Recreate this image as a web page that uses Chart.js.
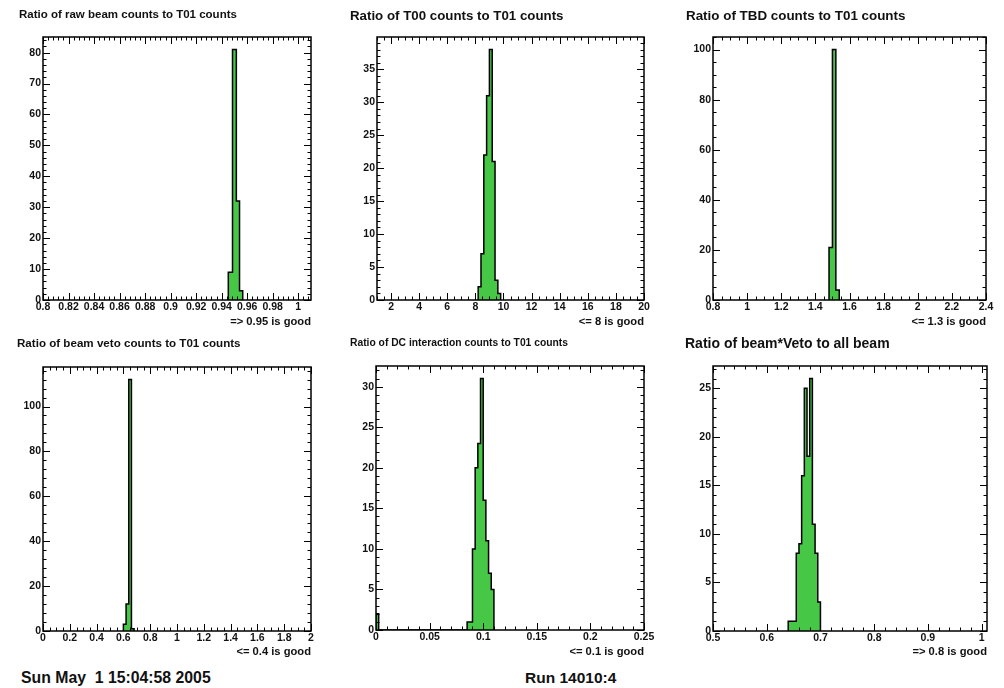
<!DOCTYPE html>
<html>
<head>
<meta charset="utf-8">
<script src="https://cdn.jsdelivr.net/npm/chart.js@4.4.1/dist/chart.umd.min.js"></script>
<style>
  body { margin: 0; background: #fff; width: 1004px; height: 688px; position: relative; overflow: hidden; }
  canvas { position: absolute; }
  .ttl, .foot { position: absolute; font-family: 'Liberation Sans', Arial, sans-serif; font-weight: bold; color: #111; white-space: pre; line-height: 1; }
</style>
</head>
<body>
<canvas id="c1" width="335" height="330" style="left:0;top:0"></canvas>
<canvas id="c2" width="335" height="330" style="left:335px;top:0"></canvas>
<canvas id="c3" width="334" height="330" style="left:670px;top:0"></canvas>
<canvas id="c4" width="335" height="330" style="left:0;top:330px"></canvas>
<canvas id="c5" width="335" height="330" style="left:335px;top:330px"></canvas>
<canvas id="c6" width="334" height="330" style="left:670px;top:330px"></canvas>

<div class="ttl" style="left:19px;top:9px;font-size:11.5px">Ratio of raw beam counts to T01 counts</div>
<div class="ttl" style="left:350px;top:9px;font-size:13.3px">Ratio of T00 counts to T01 counts</div>
<div class="ttl" style="left:686px;top:9px;font-size:13.4px">Ratio of TBD counts to T01 counts</div>
<div class="ttl" style="left:17px;top:337px;font-size:11.6px">Ratio of beam veto counts to T01 counts</div>
<div class="ttl" style="left:350px;top:338px;font-size:10.3px">Ratio of DC interaction counts to T01 counts</div>
<div class="ttl" style="left:685px;top:336px;font-size:14px">Ratio of beam*Veto to all beam</div>

<div class="foot" style="left:21px;top:670px;font-size:15.8px">Sun May  1 15:04:58 2005</div>
<div class="foot" style="left:525px;top:670px;font-size:15.5px">Run 14010:4</div>

<script>
// histogram bins (low edges + last high edge) and counts
const rawEdges = [0.9452, 0.9485, 0.9515, 0.954, 0.9565];
const rawCounts = [9, 81, 32, 3];
const rawXTicks = [0.8, 0.82, 0.84, 0.86, 0.88, 0.9, 0.92, 0.94, 0.96, 0.98, 1];
const rawYTicks = [0, 10, 20, 30, 40, 50, 60, 70, 80];

const t00Edges = [8.2, 8.4, 8.6, 8.8, 9.0, 9.2, 9.4, 9.6, 9.8];
const t00Counts = [2, 7, 22, 31, 38, 21, 3, 1];
const t00XTicks = [2, 4, 6, 8, 10, 12, 14, 16, 18, 20];
const t00YTicks = [0, 5, 10, 15, 20, 25, 30, 35];

const tbdEdges = [1.48, 1.50, 1.52, 1.54];
const tbdCounts = [21, 100, 4];
const tbdXTicks = [0.8, 1, 1.2, 1.4, 1.6, 1.8, 2, 2.2, 2.4];
const tbdYTicks = [0, 20, 40, 60, 80, 100];

const vetoEdges = [0.60, 0.62, 0.64, 0.66, 0.68];
const vetoCounts = [3, 12, 112, 1];
const vetoXTicks = [0, 0.2, 0.4, 0.6, 0.8, 1, 1.2, 1.4, 1.6, 1.8, 2];
const vetoYTicks = [0, 20, 40, 60, 80, 100];

const dcEdges = [0, 0.0025, 0.085, 0.0875, 0.09, 0.0925, 0.095, 0.0975, 0.1, 0.1025, 0.105, 0.1075, 0.11];
const dcCounts = [2, 0, 1, 1, 10, 20, 23, 31, 16, 11, 7, 5];
const dcXTicks = [0, 0.05, 0.1, 0.15, 0.2, 0.25];
const dcYTicks = [0, 5, 10, 15, 20, 25, 30];

const allEdges = [0.64, 0.645, 0.65, 0.655, 0.66, 0.665, 0.67, 0.675, 0.68, 0.685, 0.69, 0.695, 0.70];
const allCounts = [1, 1, 1, 8, 9, 16, 25, 18, 26, 11, 8, 3];
const allXTicks = [0.5, 0.6, 0.7, 0.8, 0.9, 1];
const allYTicks = [0, 5, 10, 15, 20, 25];

const panels = [
  { id: 'c1', edges: rawEdges, counts: rawCounts, xMin: 0.8, xMax: 1.01, xTicks: rawXTicks, xMinor: 0.004,
    yTicks: rawYTicks, yMinor: 2, note: '=> 0.95 is good', pad: { left: 43, top: 37, right: 24, bottom: 30 } },
  { id: 'c2', edges: t00Edges, counts: t00Counts, xMin: 1, xMax: 20, xTicks: t00XTicks, xMinor: 0.5,
    yTicks: t00YTicks, yMinor: 1, note: '<= 8 is good', pad: { left: 42, top: 37, right: 26, bottom: 30 } },
  { id: 'c3', edges: tbdEdges, counts: tbdCounts, xMin: 0.8, xMax: 2.4, xTicks: tbdXTicks, xMinor: 0.05,
    yTicks: tbdYTicks, yMinor: 5, note: '<= 1.3 is good', pad: { left: 43, top: 37, right: 18, bottom: 30 } },
  { id: 'c4', edges: vetoEdges, counts: vetoCounts, xMin: 0, xMax: 2, xTicks: vetoXTicks, xMinor: 0.05,
    yTicks: vetoYTicks, yMinor: 4, note: '<= 0.4 is good', pad: { left: 43, top: 37, right: 24, bottom: 29 } },
  { id: 'c5', edges: dcEdges, counts: dcCounts, xMin: 0, xMax: 0.25, xTicks: dcXTicks, xMinor: 0.01,
    yTicks: dcYTicks, yMinor: 1, note: '<= 0.1 is good', pad: { left: 41, top: 36, right: 26, bottom: 30 } },
  { id: 'c6', edges: allEdges, counts: allCounts, xMin: 0.5, xMax: 1.01, xTicks: allXTicks, xMinor: 0.02,
    yTicks: allYTicks, yMinor: 1, note: '=> 0.8 is good', pad: { left: 43, top: 36, right: 17, bottom: 29 } }
];

Chart.defaults.font.family = "'Liberation Sans', Arial, sans-serif";
Chart.defaults.font.weight = 'bold';
Chart.defaults.font.size = 10.5;
Chart.defaults.color = '#111';

// outline of a ROOT-style histogram as a stepped line
function histPoints(edges, counts) {
  const pts = [{ x: edges[0], y: 0 }];
  counts.forEach((c, i) => pts.push({ x: edges[i], y: c }));
  pts.push({ x: edges[edges.length - 1], y: 0 });
  return pts;
}

const fmt = v => String(parseFloat(Number(v).toFixed(4)));

// frame box + inward ticks on all four sides
const rootFrame = {
  id: 'rootFrame',
  afterDraw(chart, args, opts) {
    const { ctx, chartArea: a, scales: { x, y } } = chart;
    const isMajor = (v, list) => list.some(t => Math.abs(t - v) < 1e-7);
    ctx.save();
    ctx.strokeStyle = '#000';
    ctx.lineWidth = 1;
    ctx.beginPath();
    const x0 = Math.ceil(x.min / opts.xMinor - 1e-6);
    for (let k = x0; k * opts.xMinor <= x.max + 1e-9; k++) {
      const v = k * opts.xMinor;
      const px = Math.round(x.getPixelForValue(v)) + 0.5;
      const len = isMajor(v, opts.xTicks) ? 7 : 3.5;
      ctx.moveTo(px, a.bottom); ctx.lineTo(px, a.bottom - len);
      ctx.moveTo(px, a.top); ctx.lineTo(px, a.top + len);
    }
    const y0 = Math.ceil(y.min / opts.yMinor - 1e-6);
    for (let k = y0; k * opts.yMinor <= y.max + 1e-9; k++) {
      const v = k * opts.yMinor;
      const py = Math.round(y.getPixelForValue(v)) + 0.5;
      const len = isMajor(v, opts.yTicks) ? 7 : 3.5;
      ctx.moveTo(a.left, py); ctx.lineTo(a.left + len, py);
      ctx.moveTo(a.right, py); ctx.lineTo(a.right - len, py);
    }
    ctx.stroke();
    ctx.lineWidth = 1.5;
    ctx.strokeRect(a.left, a.top, a.right - a.left, a.bottom - a.top);
    ctx.restore();
  }
};

panels.forEach(p => {
  const canvas = document.getElementById(p.id);
  const yMax = Math.max(...p.counts) * 1.05;
  new Chart(canvas.getContext('2d'), {
    type: 'line',
    data: {
      datasets: [{
        data: histPoints(p.edges, p.counts),
        stepped: true,
        fill: 'origin',
        borderColor: '#000',
        borderWidth: 1.5,
        backgroundColor: '#46c846',
        pointRadius: 0
      }]
    },
    options: {
      responsive: false,
      animation: false,
      devicePixelRatio: 1,
      layout: { padding: { left: 0, top: p.pad.top, right: p.pad.right, bottom: 0 } },
      plugins: {
        legend: { display: false },
        tooltip: { enabled: false },
        rootFrame: { xTicks: p.xTicks, yTicks: p.yTicks, xMinor: p.xMinor, yMinor: p.yMinor }
      },
      scales: {
        x: {
          type: 'linear',
          min: p.xMin,
          max: p.xMax,
          grid: { display: false, drawTicks: false },
          border: { display: false },
          ticks: { padding: 1, autoSkip: false, maxRotation: 0, callback: fmt },
          afterBuildTicks: s => { s.ticks = p.xTicks.map(v => ({ value: v })); },
          afterFit: s => { s.height = p.pad.bottom; },
          title: { display: true, text: p.note, align: 'end', font: { size: 11.2 }, padding: { top: 0, bottom: 1 } }
        },
        y: {
          type: 'linear',
          min: 0,
          max: yMax,
          grid: { display: false, drawTicks: false },
          border: { display: false },
          ticks: { padding: 2, autoSkip: false, callback: fmt },
          afterBuildTicks: s => { s.ticks = p.yTicks.map(v => ({ value: v })); },
          afterFit: s => { s.width = p.pad.left; }
        }
      }
    },
    plugins: [rootFrame]
  });
});
</script>
</body>
</html>
